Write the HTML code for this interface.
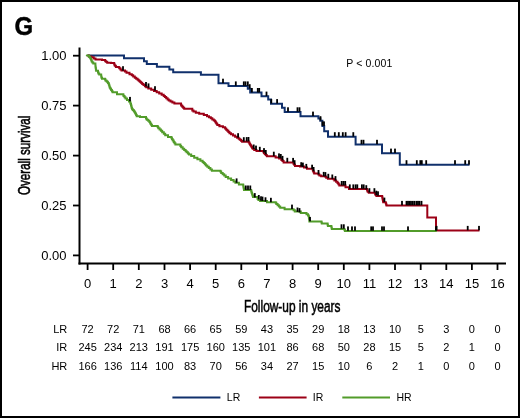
<!DOCTYPE html>
<html><head><meta charset="utf-8"><style>
html,body{margin:0;padding:0;background:#fff;}
body{width:520px;height:418px;overflow:hidden;}
.wrap{position:relative;width:516px;height:414px;border:2px solid #000;background:#fff;}
svg{position:absolute;left:-2px;top:-2px;will-change:transform;}
text{font-family:"Liberation Sans",sans-serif;fill:#000;}
</style></head><body><div class="wrap">
<svg width="520" height="418" viewBox="0 0 520 418">
<path d="M79.5 47.5 V264.5" stroke="#000" stroke-width="2" fill="none"/>
<path d="M78.5 263.5 H506" stroke="#000" stroke-width="2" fill="none"/>
<path d="M73 55.7 H79" stroke="#000" stroke-width="1.8"/>
<path d="M73 105.6 H79" stroke="#000" stroke-width="1.8"/>
<path d="M73 155.6 H79" stroke="#000" stroke-width="1.8"/>
<path d="M73 205.5 H79" stroke="#000" stroke-width="1.8"/>
<path d="M73 255.4 H79" stroke="#000" stroke-width="1.8"/>
<path d="M87.6 264 V270" stroke="#000" stroke-width="1.8"/>
<path d="M113.2 264 V270" stroke="#000" stroke-width="1.8"/>
<path d="M138.8 264 V270" stroke="#000" stroke-width="1.8"/>
<path d="M164.5 264 V270" stroke="#000" stroke-width="1.8"/>
<path d="M190.1 264 V270" stroke="#000" stroke-width="1.8"/>
<path d="M215.7 264 V270" stroke="#000" stroke-width="1.8"/>
<path d="M241.3 264 V270" stroke="#000" stroke-width="1.8"/>
<path d="M266.9 264 V270" stroke="#000" stroke-width="1.8"/>
<path d="M292.6 264 V270" stroke="#000" stroke-width="1.8"/>
<path d="M318.2 264 V270" stroke="#000" stroke-width="1.8"/>
<path d="M343.8 264 V270" stroke="#000" stroke-width="1.8"/>
<path d="M369.4 264 V270" stroke="#000" stroke-width="1.8"/>
<path d="M395.0 264 V270" stroke="#000" stroke-width="1.8"/>
<path d="M420.7 264 V270" stroke="#000" stroke-width="1.8"/>
<path d="M446.3 264 V270" stroke="#000" stroke-width="1.8"/>
<path d="M471.9 264 V270" stroke="#000" stroke-width="1.8"/>
<path d="M497.5 264 V270" stroke="#000" stroke-width="1.8"/>
<text x="66.6" y="60.0" text-anchor="end" font-size="13">1.00</text>
<text x="66.6" y="109.9" text-anchor="end" font-size="13">0.75</text>
<text x="66.6" y="159.9" text-anchor="end" font-size="13">0.50</text>
<text x="66.6" y="209.8" text-anchor="end" font-size="13">0.25</text>
<text x="66.6" y="259.7" text-anchor="end" font-size="13">0.00</text>
<text x="87.6" y="287.7" text-anchor="middle" font-size="13">0</text>
<text x="113.2" y="287.7" text-anchor="middle" font-size="13">1</text>
<text x="138.8" y="287.7" text-anchor="middle" font-size="13">2</text>
<text x="164.5" y="287.7" text-anchor="middle" font-size="13">3</text>
<text x="190.1" y="287.7" text-anchor="middle" font-size="13">4</text>
<text x="215.7" y="287.7" text-anchor="middle" font-size="13">5</text>
<text x="241.3" y="287.7" text-anchor="middle" font-size="13">6</text>
<text x="266.9" y="287.7" text-anchor="middle" font-size="13">7</text>
<text x="292.6" y="287.7" text-anchor="middle" font-size="13">8</text>
<text x="318.2" y="287.7" text-anchor="middle" font-size="13">9</text>
<text x="343.8" y="287.7" text-anchor="middle" font-size="13">10</text>
<text x="369.4" y="287.7" text-anchor="middle" font-size="13">11</text>
<text x="395.0" y="287.7" text-anchor="middle" font-size="13">12</text>
<text x="420.7" y="287.7" text-anchor="middle" font-size="13">13</text>
<text x="446.3" y="287.7" text-anchor="middle" font-size="13">14</text>
<text x="471.9" y="287.7" text-anchor="middle" font-size="13">15</text>
<text x="497.5" y="287.7" text-anchor="middle" font-size="13">16</text>
<polyline points="87.5,55.4 124.0,55.4 124.0,58.3 144.0,58.3 144.0,61.2 146.8,61.2 146.8,64.1 156.9,64.1 156.9,66.8 169.4,66.8 169.4,69.4 173.2,69.4 173.2,72.2 200.9,72.2 200.9,74.7 218.5,74.7 218.5,83.3 228.5,83.3 228.5,86.0 247.8,86.0 247.8,88.8 250.2,88.8 250.2,92.6 261.5,92.6 261.5,96.2 268.2,96.2 268.2,99.6 271.0,99.6 271.0,103.7 282.0,103.7 282.0,107.8 284.7,107.8 284.7,111.9 300.5,111.9 300.5,116.2 318.4,116.2 318.4,118.5 320.3,118.5 320.3,120.8 322.4,120.8 322.4,126.0 324.2,126.0 324.2,131.3 328.0,131.3 328.0,136.8 355.6,136.8 355.6,144.4 382.0,144.4 382.0,153.2 399.8,153.2 399.8,164.8 469.5,164.8" stroke="#10306c" stroke-width="2" fill="none" stroke-linejoin="miter"/>
<polyline points="87.5,55.5 88.8,55.5 88.8,56.4 91.4,56.4 91.4,57.2 92.7,57.2 93.7,57.2 93.7,58.4 95.5,58.4 95.5,59.6 96.5,59.6 102.0,59.6 102.0,60.0 105.0,60.0 105.0,60.8 105.8,60.8 105.8,61.8 107.2,61.8 107.2,62.7 108.0,62.7 111.0,62.7 111.0,63.0 114.2,63.0 114.2,64.6 114.8,64.6 114.8,65.8 115.9,65.8 115.9,67.0 116.5,67.0 118.8,67.0 118.8,67.3 119.3,67.3 119.3,68.3 120.4,68.3 120.4,69.4 121.5,69.4 121.5,70.4 122.0,70.4 125.0,70.4 125.0,71.5 126.5,71.5 126.5,72.8 129.5,72.8 129.5,74.2 131.0,74.2 131.8,74.2 131.8,75.3 133.2,75.3 133.2,76.5 134.8,76.5 134.8,77.7 136.2,77.7 136.2,78.8 137.0,78.8 137.6,78.8 137.6,79.8 138.7,79.8 138.7,80.8 139.8,80.8 139.8,81.8 140.9,81.8 140.9,82.8 141.5,82.8 142.2,82.8 142.2,83.9 143.5,83.9 143.5,85.0 144.9,85.0 144.9,86.2 146.2,86.2 146.2,87.3 146.9,87.3 148.3,87.3 148.3,88.5 151.2,88.5 151.2,89.8 154.0,89.8 154.0,91.0 155.4,91.0 156.7,91.0 156.7,92.3 159.2,92.3 159.2,93.5 161.7,93.5 161.7,94.8 163.0,94.8 163.7,94.8 163.7,95.9 164.9,95.9 164.9,97.1 166.2,97.1 166.2,98.2 167.6,98.2 167.6,99.4 168.8,99.4 168.8,100.5 169.5,100.5 170.5,100.5 170.5,101.5 172.4,101.5 172.4,102.5 174.4,102.5 174.4,103.5 175.4,103.5 181.0,103.5 181.0,104.8 181.4,104.8 181.4,105.8 182.3,105.8 182.3,106.8 183.2,106.8 183.2,107.8 184.2,107.8 184.2,108.8 184.6,108.8 192.3,108.8 192.3,110.4 193.5,110.4 193.5,111.6 195.8,111.6 195.8,112.7 197.0,112.7 199.2,112.7 199.2,113.8 203.8,113.8 203.8,115.0 206.0,115.0 207.0,115.0 207.0,116.2 209.0,116.2 209.0,117.3 210.0,117.3 210.8,117.3 210.8,118.3 212.3,118.3 212.3,119.4 213.8,119.4 213.8,120.4 214.6,120.4 215.0,120.4 215.0,121.6 215.8,121.6 215.8,122.7 216.5,122.7 216.5,123.8 217.3,123.8 217.3,125.0 217.7,125.0 219.4,125.0 219.4,126.2 222.9,126.2 222.9,127.3 224.6,127.3 225.1,127.3 225.1,128.5 226.2,128.5 226.2,129.7 227.3,129.7 227.3,130.8 228.4,130.8 228.4,132.0 229.5,132.0 229.5,133.2 230.0,133.2 231.0,133.2 231.0,134.3 233.0,134.3 233.0,135.5 235.1,135.5 235.1,136.7 237.1,136.7 237.1,137.8 238.1,137.8 238.7,137.8 238.7,138.8 239.8,138.8 239.8,139.8 241.0,139.8 241.0,140.8 242.1,140.8 242.1,141.8 242.7,141.8 248.5,141.6 248.8,141.6 248.8,142.6 249.5,142.6 249.5,143.7 250.1,143.7 250.1,144.7 250.8,144.7 250.8,145.7 251.4,145.7 251.4,146.7 252.0,146.7 252.0,147.8 252.7,147.8 252.7,148.8 253.0,148.8 254.2,148.8 254.2,149.9 256.5,149.9 256.5,151.0 257.7,151.0 263.5,151.0 263.5,152.2 264.0,152.2 264.0,153.2 265.0,153.2 265.0,154.2 266.0,154.2 266.0,155.3 267.0,155.3 267.0,156.3 267.5,156.3 273.8,156.3 275.6,156.3 275.6,157.4 279.1,157.4 279.1,158.6 280.8,158.6 281.4,158.6 281.4,159.9 282.5,159.9 282.5,161.1 283.6,161.1 283.6,162.4 284.2,162.4 293.1,162.4 293.1,162.5 293.5,162.5 293.5,163.7 294.2,163.7 294.2,164.8 295.0,164.8 295.0,166.0 295.4,166.0 300.0,166.0 300.0,166.5 304.0,166.5 304.0,167.5 307.0,167.5 307.0,168.8 312.7,168.8 312.7,169.4 312.9,169.4 312.9,170.4 313.3,170.4 313.3,171.4 313.8,171.4 313.8,172.5 314.2,172.5 314.2,173.5 314.4,173.5 318.5,173.5 318.5,174.6 319.4,174.6 319.4,175.4 321.1,175.4 321.1,176.3 322.0,176.3 325.4,176.3 325.4,176.7 326.2,176.7 326.2,177.7 327.9,177.7 327.9,178.7 328.8,178.7 333.5,178.7 333.5,179.2 334.4,179.2 334.4,180.5 336.1,180.5 336.1,181.8 337.0,181.8 337.5,181.8 337.5,183.1 338.4,183.1 338.4,184.3 339.3,184.3 339.3,185.6 339.8,185.6 345.5,185.6 345.5,187.3 349.0,187.3 349.0,189.0 365.4,189.0 367.1,189.0 367.1,190.5 367.7,190.5 367.7,191.7 368.8,191.7 368.8,192.8 369.4,192.8 374.6,192.8 375.0,192.8 375.0,193.8 375.6,193.8 375.6,194.9 376.4,194.9 376.4,195.9 376.7,195.9 382.1,195.9 382.2,195.9 382.2,196.9 382.4,196.9 382.4,198.0 382.6,198.0 382.6,199.1 382.8,199.1 382.8,200.1 383.0,200.1 383.0,201.1 383.2,201.1 383.2,202.2 383.3,202.2 385.6,202.2 385.8,202.2 385.8,203.3 386.1,203.3 386.1,204.4 386.5,204.4 386.5,205.5 386.7,205.5 427.3,205.5 427.3,217.5 436.0,217.5 436.0,230.5 479.5,230.5" stroke="#9c0016" stroke-width="2" fill="none" stroke-linejoin="miter"/>
<polyline points="86.8,55.5 88.5,55.5 88.5,55.6 89.0,55.6 89.0,56.7 89.9,56.7 89.9,57.7 90.4,57.7 90.7,57.7 90.7,59.0 91.2,59.0 91.2,60.2 91.7,60.2 91.7,61.5 91.9,61.5 92.4,61.5 92.4,62.5 93.3,62.5 93.3,63.5 93.8,63.5 95.4,63.5 95.4,65.4 95.5,65.4 95.5,66.8 95.7,66.8 95.7,68.1 95.9,68.1 95.9,69.5 96.1,69.5 96.1,70.8 96.2,70.8 98.0,70.8 98.0,72.3 98.4,72.3 98.4,73.4 99.2,73.4 99.2,74.6 99.6,74.6 101.2,74.6 101.2,76.5 101.5,76.5 101.5,77.7 102.0,77.7 102.0,78.8 102.3,78.8 105.0,78.8 105.0,79.5 105.6,79.5 105.6,80.7 106.8,80.7 106.8,81.8 107.9,81.8 107.9,83.0 108.5,83.0 108.7,83.0 108.7,84.2 109.1,84.2 109.1,85.3 109.4,85.3 109.4,86.5 109.8,86.5 109.8,87.7 110.0,87.7 110.4,87.7 110.4,88.8 111.1,88.8 111.1,90.0 111.9,90.0 111.9,91.2 112.6,91.2 112.6,92.3 113.0,92.3 117.0,92.3 117.0,94.2 123.0,94.2 123.0,94.6 123.5,94.6 123.5,95.9 124.5,95.9 124.5,97.2 125.5,97.2 125.5,98.5 126.0,98.5 127.0,98.5 127.0,100.0 129.0,100.0 129.0,101.5 130.0,101.5 130.2,101.5 130.2,102.8 130.6,102.8 130.6,104.1 131.0,104.1 131.0,105.3 131.3,105.3 131.3,106.6 131.7,106.6 131.7,107.9 132.1,107.9 132.1,109.2 132.3,109.2 132.9,109.2 132.9,110.3 134.0,110.3 134.0,111.5 134.6,111.5 134.9,111.5 134.9,112.7 135.5,112.7 135.5,113.8 136.1,113.8 136.1,115.0 136.7,115.0 136.7,116.2 137.0,116.2 140.0,116.2 140.0,117.0 146.0,117.0 146.0,118.5 146.8,118.5 146.8,119.7 148.2,119.7 148.2,120.8 149.0,120.8 149.4,120.8 149.4,122.1 150.2,122.1 150.2,123.4 151.1,123.4 151.1,124.7 151.9,124.7 151.9,126.0 152.3,126.0 157.7,126.0 157.7,127.0 158.3,127.0 158.3,128.3 159.6,128.3 159.6,129.5 160.9,129.5 160.9,130.8 161.5,130.8 162.2,130.8 162.2,132.3 163.8,132.3 163.8,133.7 165.2,133.7 165.2,135.2 166.0,135.2 168.0,135.2 168.0,137.0 171.5,137.0 171.5,138.0 171.9,138.0 171.9,139.3 172.8,139.3 172.8,140.6 173.7,140.6 173.7,142.0 174.5,142.0 174.5,143.3 175.4,143.3 175.4,144.6 175.8,144.6 180.4,144.6 180.4,146.0 181.2,146.0 181.2,147.3 182.7,147.3 182.7,148.7 184.2,148.7 184.2,150.0 185.0,150.0 185.6,150.0 185.6,151.2 186.7,151.2 186.7,152.3 187.9,152.3 187.9,153.4 189.0,153.4 189.0,154.6 189.6,154.6 191.2,154.6 191.2,156.1 194.2,156.1 194.2,157.7 195.8,157.7 197.4,157.7 197.4,159.2 200.4,159.2 200.4,160.8 202.0,160.8 202.6,160.8 202.6,162.0 203.7,162.0 203.7,163.1 204.8,163.1 204.8,164.2 205.9,164.2 205.9,165.4 206.5,165.4 207.3,165.4 207.3,166.8 208.8,166.8 208.8,168.1 210.4,168.1 210.4,169.5 211.9,169.5 211.9,170.8 212.7,170.8 220.4,170.8 220.4,171.5 221.2,171.5 221.2,172.9 222.7,172.9 222.7,174.2 224.2,174.2 224.2,175.6 225.7,175.6 225.7,177.0 226.5,177.0 228.1,177.0 228.1,178.5 231.1,178.5 231.1,180.0 232.7,180.0 233.6,180.0 233.6,181.4 235.4,181.4 235.4,182.8 236.3,182.8 238.9,182.8 238.9,184.5 243.2,184.5 243.2,184.9 243.3,184.9 243.3,186.2 243.5,186.2 243.5,187.5 243.8,187.5 243.8,188.8 244.0,188.8 244.0,190.1 244.1,190.1 251.0,190.1 251.2,190.1 251.2,191.5 251.7,191.5 251.7,192.9 252.1,192.9 252.1,194.2 252.5,194.2 252.5,195.6 253.0,195.6 253.0,197.0 253.2,197.0 257.5,197.0 257.5,198.8 258.4,198.8 258.4,199.9 260.1,199.9 260.1,200.9 261.0,200.9 267.0,200.9 267.0,202.2 275.7,202.2 275.7,202.7 276.3,202.7 276.3,203.9 277.6,203.9 277.6,205.2 278.9,205.2 278.9,206.4 280.2,206.4 280.2,207.7 280.8,207.7 284.6,207.7 284.6,209.2 293.0,209.2 293.6,209.2 293.6,210.3 294.8,210.3 294.8,211.5 295.4,211.5 300.8,211.5 300.8,213.1 305.8,213.1 306.5,213.1 306.5,214.2 308.0,214.2 308.0,215.4 308.7,215.4 308.8,215.4 308.8,216.6 308.9,216.6 308.9,217.8 309.1,217.8 309.1,219.1 309.3,219.1 309.3,220.3 309.4,220.3 309.4,221.5 309.5,221.5 321.3,221.5 321.5,221.5 321.5,222.5 321.8,222.5 321.8,223.5 322.0,223.5 327.5,223.5 327.6,223.5 327.6,224.8 327.9,224.8 327.9,226.1 328.0,226.1 331.2,226.1 331.4,226.1 331.4,227.5 331.8,227.5 331.8,228.9 332.0,228.9 344.4,228.9 344.5,228.9 344.5,229.9 344.9,229.9 344.9,231.0 345.0,231.0 436.0,231.0" stroke="#529c2a" stroke-width="2" fill="none" stroke-linejoin="miter" stroke-linecap="round"/>
<g fill="#000"><rect x="129.1" y="96.9" width="1.8" height="4.4"/>
<rect x="235.7" y="178.4" width="1.8" height="4.4"/>
<rect x="244.9" y="185.5" width="1.8" height="4.4"/>
<rect x="247.1" y="185.5" width="1.8" height="4.4"/>
<rect x="249.4" y="185.5" width="1.8" height="4.4"/>
<rect x="253.9" y="193.1" width="1.8" height="4.4"/>
<rect x="257.9" y="195.0" width="1.8" height="4.4"/>
<rect x="260.1" y="196.3" width="1.8" height="4.4"/>
<rect x="261.6" y="196.6" width="1.8" height="4.4"/>
<rect x="264.6" y="197.3" width="1.8" height="4.4"/>
<rect x="270.0" y="197.8" width="1.8" height="4.4"/>
<rect x="291.1" y="204.6" width="1.8" height="4.4"/>
<rect x="296.6" y="207.5" width="1.8" height="4.4"/>
<rect x="298.6" y="208.1" width="1.8" height="4.4"/>
<rect x="309.1" y="216.9" width="1.8" height="4.4"/>
<rect x="340.6" y="224.3" width="1.8" height="4.4"/>
<rect x="342.9" y="224.3" width="1.8" height="4.4"/>
<rect x="347.1" y="226.4" width="1.8" height="4.4"/>
<rect x="351.1" y="226.4" width="1.8" height="4.4"/>
<rect x="354.1" y="226.4" width="1.8" height="4.4"/>
<rect x="370.3" y="226.4" width="1.8" height="4.4"/>
<rect x="372.1" y="226.4" width="1.8" height="4.4"/>
<rect x="381.1" y="226.4" width="1.8" height="4.4"/>
<rect x="383.1" y="226.4" width="1.8" height="4.4"/>
<rect x="407.1" y="226.4" width="1.8" height="4.4"/>
<rect x="435.1" y="226.4" width="1.8" height="4.4"/><rect x="122.1" y="66.2" width="1.8" height="4.4"/>
<rect x="145.1" y="82.0" width="1.8" height="4.4"/>
<rect x="147.6" y="83.4" width="1.8" height="4.4"/>
<rect x="154.1" y="86.2" width="1.8" height="4.4"/>
<rect x="237.2" y="133.2" width="1.8" height="4.4"/>
<rect x="242.9" y="137.2" width="1.8" height="4.4"/>
<rect x="245.8" y="137.1" width="1.8" height="4.4"/>
<rect x="247.6" y="137.0" width="1.8" height="4.4"/>
<rect x="252.8" y="144.5" width="1.8" height="4.4"/>
<rect x="255.1" y="145.6" width="1.8" height="4.4"/>
<rect x="258.9" y="146.8" width="1.8" height="4.4"/>
<rect x="263.1" y="148.1" width="1.8" height="4.4"/>
<rect x="264.9" y="150.0" width="1.8" height="4.4"/>
<rect x="272.9" y="151.7" width="1.8" height="4.4"/>
<rect x="278.1" y="153.4" width="1.8" height="4.4"/>
<rect x="279.9" y="154.0" width="1.8" height="4.4"/>
<rect x="281.6" y="155.9" width="1.8" height="4.4"/>
<rect x="286.4" y="157.8" width="1.8" height="4.4"/>
<rect x="292.2" y="157.9" width="1.8" height="4.4"/>
<rect x="293.7" y="160.2" width="1.8" height="4.4"/>
<rect x="300.3" y="162.2" width="1.8" height="4.4"/>
<rect x="302.0" y="162.6" width="1.8" height="4.4"/>
<rect x="305.4" y="163.9" width="1.8" height="4.4"/>
<rect x="311.2" y="164.7" width="1.8" height="4.4"/>
<rect x="312.7" y="167.0" width="1.8" height="4.4"/>
<rect x="317.6" y="170.0" width="1.8" height="4.4"/>
<rect x="322.8" y="171.9" width="1.8" height="4.4"/>
<rect x="324.5" y="172.1" width="1.8" height="4.4"/>
<rect x="327.4" y="173.8" width="1.8" height="4.4"/>
<rect x="331.4" y="174.5" width="1.8" height="4.4"/>
<rect x="334.6" y="176.1" width="1.8" height="4.4"/>
<rect x="340.8" y="181.0" width="1.8" height="4.4"/>
<rect x="342.6" y="181.0" width="1.8" height="4.4"/>
<rect x="344.3" y="181.0" width="1.8" height="4.4"/>
<rect x="348.9" y="184.4" width="1.8" height="4.4"/>
<rect x="352.4" y="184.4" width="1.8" height="4.4"/>
<rect x="354.7" y="184.4" width="1.8" height="4.4"/>
<rect x="356.4" y="184.4" width="1.8" height="4.4"/>
<rect x="361.0" y="184.4" width="1.8" height="4.4"/>
<rect x="362.8" y="184.4" width="1.8" height="4.4"/>
<rect x="365.4" y="185.2" width="1.8" height="4.4"/>
<rect x="368.5" y="188.2" width="1.8" height="4.4"/>
<rect x="373.5" y="188.2" width="1.8" height="4.4"/>
<rect x="375.4" y="190.7" width="1.8" height="4.4"/>
<rect x="377.1" y="191.3" width="1.8" height="4.4"/>
<rect x="383.5" y="197.6" width="1.8" height="4.4"/>
<rect x="401.1" y="200.9" width="1.8" height="4.4"/>
<rect x="405.6" y="200.9" width="1.8" height="4.4"/>
<rect x="407.1" y="200.9" width="1.8" height="4.4"/>
<rect x="408.6" y="200.9" width="1.8" height="4.4"/>
<rect x="410.1" y="200.9" width="1.8" height="4.4"/>
<rect x="411.9" y="200.9" width="1.8" height="4.4"/>
<rect x="413.6" y="200.9" width="1.8" height="4.4"/>
<rect x="415.6" y="200.9" width="1.8" height="4.4"/>
<rect x="417.1" y="200.9" width="1.8" height="4.4"/>
<rect x="418.6" y="200.9" width="1.8" height="4.4"/>
<rect x="420.6" y="200.9" width="1.8" height="4.4"/>
<rect x="435.7" y="225.9" width="1.8" height="4.4"/>
<rect x="466.8" y="225.9" width="1.8" height="4.4"/>
<rect x="478.1" y="225.9" width="1.8" height="4.4"/><rect x="222.1" y="78.7" width="1.8" height="4.4"/>
<rect x="234.9" y="81.4" width="1.8" height="4.4"/>
<rect x="242.9" y="81.4" width="1.8" height="4.4"/>
<rect x="244.6" y="81.4" width="1.8" height="4.4"/>
<rect x="246.9" y="81.4" width="1.8" height="4.4"/>
<rect x="248.8" y="84.2" width="1.8" height="4.4"/>
<rect x="251.0" y="88.0" width="1.8" height="4.4"/>
<rect x="256.9" y="88.0" width="1.8" height="4.4"/>
<rect x="258.3" y="88.0" width="1.8" height="4.4"/>
<rect x="265.6" y="91.6" width="1.8" height="4.4"/>
<rect x="270.4" y="99.1" width="1.8" height="4.4"/>
<rect x="276.2" y="99.1" width="1.8" height="4.4"/>
<rect x="287.1" y="107.3" width="1.8" height="4.4"/>
<rect x="296.6" y="107.3" width="1.8" height="4.4"/>
<rect x="298.6" y="107.3" width="1.8" height="4.4"/>
<rect x="312.1" y="111.6" width="1.8" height="4.4"/>
<rect x="319.6" y="116.2" width="1.8" height="4.4"/>
<rect x="321.6" y="121.4" width="1.8" height="4.4"/>
<rect x="323.1" y="121.4" width="1.8" height="4.4"/>
<rect x="333.9" y="132.2" width="1.8" height="4.4"/>
<rect x="337.9" y="132.2" width="1.8" height="4.4"/>
<rect x="341.9" y="132.2" width="1.8" height="4.4"/>
<rect x="344.7" y="132.2" width="1.8" height="4.4"/>
<rect x="352.4" y="132.2" width="1.8" height="4.4"/>
<rect x="360.6" y="139.8" width="1.8" height="4.4"/>
<rect x="362.6" y="139.8" width="1.8" height="4.4"/>
<rect x="376.1" y="139.8" width="1.8" height="4.4"/>
<rect x="390.1" y="148.6" width="1.8" height="4.4"/>
<rect x="394.1" y="148.6" width="1.8" height="4.4"/>
<rect x="405.6" y="160.2" width="1.8" height="4.4"/>
<rect x="415.9" y="160.2" width="1.8" height="4.4"/>
<rect x="419.4" y="160.2" width="1.8" height="4.4"/>
<rect x="420.9" y="160.2" width="1.8" height="4.4"/>
<rect x="425.3" y="160.2" width="1.8" height="4.4"/>
<rect x="454.1" y="160.2" width="1.8" height="4.4"/>
<rect x="464.3" y="160.2" width="1.8" height="4.4"/>
<rect x="468.1" y="160.2" width="1.8" height="4.4"/></g>
<text x="346.3" y="66.8" font-size="10.5" textLength="46" lengthAdjust="spacing">P &lt; 0.001</text>
<text transform="translate(244,312.4) scale(0.7,1)" font-size="17" stroke="#000" stroke-width="0.55">Follow-up in years</text>
<text transform="translate(30,195) rotate(-90) scale(0.683,1)" font-size="17" stroke="#000" stroke-width="0.55">Overall survival</text>
<text transform="translate(14.4,35.4) scale(0.92,1)" font-size="26" font-weight="bold" stroke="#000" stroke-width="0.5">G</text>
<text x="67.3" y="333" text-anchor="end" font-size="11">LR</text>
<text x="87.6" y="333" text-anchor="middle" font-size="11">72</text>
<text x="113.2" y="333" text-anchor="middle" font-size="11">72</text>
<text x="138.8" y="333" text-anchor="middle" font-size="11">71</text>
<text x="164.5" y="333" text-anchor="middle" font-size="11">68</text>
<text x="190.1" y="333" text-anchor="middle" font-size="11">66</text>
<text x="215.7" y="333" text-anchor="middle" font-size="11">65</text>
<text x="241.3" y="333" text-anchor="middle" font-size="11">59</text>
<text x="266.9" y="333" text-anchor="middle" font-size="11">43</text>
<text x="292.6" y="333" text-anchor="middle" font-size="11">35</text>
<text x="318.2" y="333" text-anchor="middle" font-size="11">29</text>
<text x="343.8" y="333" text-anchor="middle" font-size="11">18</text>
<text x="369.4" y="333" text-anchor="middle" font-size="11">13</text>
<text x="395.0" y="333" text-anchor="middle" font-size="11">10</text>
<text x="420.7" y="333" text-anchor="middle" font-size="11">5</text>
<text x="446.3" y="333" text-anchor="middle" font-size="11">3</text>
<text x="471.9" y="333" text-anchor="middle" font-size="11">0</text>
<text x="497.5" y="333" text-anchor="middle" font-size="11">0</text>
<text x="67.3" y="351.3" text-anchor="end" font-size="11">IR</text>
<text x="87.6" y="351.3" text-anchor="middle" font-size="11">245</text>
<text x="113.2" y="351.3" text-anchor="middle" font-size="11">234</text>
<text x="138.8" y="351.3" text-anchor="middle" font-size="11">213</text>
<text x="164.5" y="351.3" text-anchor="middle" font-size="11">191</text>
<text x="190.1" y="351.3" text-anchor="middle" font-size="11">175</text>
<text x="215.7" y="351.3" text-anchor="middle" font-size="11">160</text>
<text x="241.3" y="351.3" text-anchor="middle" font-size="11">135</text>
<text x="266.9" y="351.3" text-anchor="middle" font-size="11">101</text>
<text x="292.6" y="351.3" text-anchor="middle" font-size="11">86</text>
<text x="318.2" y="351.3" text-anchor="middle" font-size="11">68</text>
<text x="343.8" y="351.3" text-anchor="middle" font-size="11">50</text>
<text x="369.4" y="351.3" text-anchor="middle" font-size="11">28</text>
<text x="395.0" y="351.3" text-anchor="middle" font-size="11">15</text>
<text x="420.7" y="351.3" text-anchor="middle" font-size="11">5</text>
<text x="446.3" y="351.3" text-anchor="middle" font-size="11">2</text>
<text x="471.9" y="351.3" text-anchor="middle" font-size="11">1</text>
<text x="497.5" y="351.3" text-anchor="middle" font-size="11">0</text>
<text x="67.3" y="369.7" text-anchor="end" font-size="11">HR</text>
<text x="87.6" y="369.7" text-anchor="middle" font-size="11">166</text>
<text x="113.2" y="369.7" text-anchor="middle" font-size="11">136</text>
<text x="138.8" y="369.7" text-anchor="middle" font-size="11">114</text>
<text x="164.5" y="369.7" text-anchor="middle" font-size="11">100</text>
<text x="190.1" y="369.7" text-anchor="middle" font-size="11">83</text>
<text x="215.7" y="369.7" text-anchor="middle" font-size="11">70</text>
<text x="241.3" y="369.7" text-anchor="middle" font-size="11">56</text>
<text x="266.9" y="369.7" text-anchor="middle" font-size="11">34</text>
<text x="292.6" y="369.7" text-anchor="middle" font-size="11">27</text>
<text x="318.2" y="369.7" text-anchor="middle" font-size="11">15</text>
<text x="343.8" y="369.7" text-anchor="middle" font-size="11">10</text>
<text x="369.4" y="369.7" text-anchor="middle" font-size="11">6</text>
<text x="395.0" y="369.7" text-anchor="middle" font-size="11">2</text>
<text x="420.7" y="369.7" text-anchor="middle" font-size="11">1</text>
<text x="446.3" y="369.7" text-anchor="middle" font-size="11">0</text>
<text x="471.9" y="369.7" text-anchor="middle" font-size="11">0</text>
<text x="497.5" y="369.7" text-anchor="middle" font-size="11">0</text>
<path d="M172.4 397.4 H220.4" stroke="#10306c" stroke-width="2"/>
<text x="226.8" y="400.8" font-size="10.5">LR</text>
<path d="M258.9 397.4 H306.6" stroke="#9c0016" stroke-width="2"/>
<text x="312.8" y="400.8" font-size="10.5">IR</text>
<path d="M342.3 397.4 H390" stroke="#529c2a" stroke-width="2"/>
<text x="396.4" y="400.8" font-size="10.5">HR</text>
</svg></div></body></html>
